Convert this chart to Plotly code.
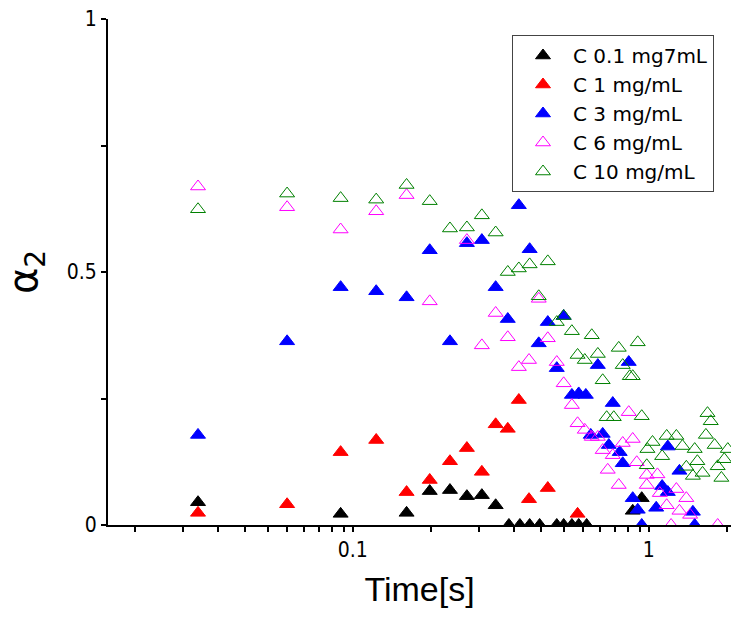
import plotly.graph_objects as go

# ---------------- data ----------------
black_t = [0.030, 0.091, 0.152, 0.182, 0.213, 0.243, 0.273, 0.304,
           0.337, 0.367, 0.396, 0.428, 0.489, 0.516, 0.55, 0.58, 0.617,
           0.883, 0.947]
black_a = [0.045, 0.022, 0.024, 0.067, 0.069, 0.057, 0.059, 0.039,
           0.0, 0.0, 0.0, 0.0, 0.0, 0.0, 0.0, 0.0, 0.0,
           0.028, 0.053]

red_t = [0.030, 0.060, 0.091, 0.12, 0.152, 0.182, 0.213, 0.243, 0.273,
         0.304, 0.334, 0.364, 0.394, 0.456, 0.575]
red_a = [0.024, 0.041, 0.144, 0.168, 0.065, 0.089, 0.126, 0.152, 0.105,
         0.199, 0.19, 0.247, 0.051, 0.073, 0.022]

blue_t = [0.030, 0.060, 0.091, 0.12, 0.152, 0.182, 0.213, 0.243, 0.273,
          0.304, 0.334, 0.364, 0.396, 0.425, 0.456, 0.489, 0.516, 0.55,
          0.58, 0.613, 0.637, 0.673, 0.699, 0.733, 0.756, 0.798, 0.817,
          0.856, 0.883, 0.918, 0.947, 1.06, 1.11, 1.16, 1.16, 1.27, 1.41,
          1.43]
blue_a = [0.178, 0.363, 0.470, 0.462, 0.450, 0.543, 0.363, 0.557, 0.563,
          0.470, 0.407, 0.632, 0.545, 0.359, 0.401, 0.31, 0.413, 0.257,
          0.26, 0.257, 0.178, 0.316, 0.18, 0.158, 0.241, 0.144, 0.122,
          0.322, 0.053, 0.03, 0.0, 0.034, 0.077, 0.065, 0.155, 0.107, 0.026,
          0.0]

pink_t = [0.030, 0.060, 0.091, 0.12, 0.152, 0.182, 0.243, 0.273, 0.304,
          0.334, 0.364, 0.394, 0.425, 0.456, 0.489, 0.516, 0.55, 0.575,
          0.608, 0.642, 0.673, 0.699, 0.727, 0.756, 0.792, 0.817, 0.856,
          0.883, 0.911, 0.985, 0.985, 1.07, 1.09, 1.15, 1.19, 1.24, 1.27,
          1.34, 1.38, 1.71]
pink_a = [0.669, 0.628, 0.584, 0.620, 0.652, 0.442, 0.563, 0.355, 0.419,
          0.371, 0.312, 0.326, 0.447, 0.369, 0.322, 0.28, 0.237, 0.201,
          0.188, 0.174, 0.174, 0.148, 0.109, 0.138, 0.079, 0.162, 0.223,
          0.17, 0.124, 0.099, 0.079, 0.1, 0.063, 0.039, 0.0, 0.071, 0.028,
          0.053, 0.02, 0.0]

green_t = [0.030, 0.060, 0.091, 0.12, 0.152, 0.182, 0.213, 0.243, 0.273,
           0.304, 0.334, 0.364, 0.396, 0.425, 0.456, 0.489, 0.516, 0.55,
           0.575, 0.608, 0.642, 0.673, 0.699, 0.721, 0.762, 0.792, 0.817,
           0.863, 0.883, 0.918, 0.947, 0.985, 0.99, 1.03, 1.11, 1.15, 1.24,
           1.30, 1.34, 1.41, 1.43, 1.46, 1.52, 1.56, 1.58, 1.62, 1.67, 1.71,
           1.76, 1.80, 1.85]
green_a = [0.624, 0.655, 0.646, 0.643, 0.672, 0.64, 0.586, 0.588, 0.612,
           0.578, 0.5, 0.507, 0.515, 0.452, 0.521, 0.401, 0.413, 0.383,
           0.336, 0.326, 0.375, 0.338, 0.286, 0.213, 0.213, 0.35, 0.316,
           0.294, 0.294, 0.361, 0.215, 0.118, 0.15, 0.164, 0.136, 0.176, 0.176,
           0.156, 0.115, 0.097, 0.15, 0.126, 0.103, 0.178, 0.221, 0.205, 0.158,
           0.116, 0.093, 0.13, 0.15]

series_names = ["C 0.1 mg7mL", "C 1 mg/mL", "C 3 mg/mL", "C 6 mg/mL", "C 10 mg/mL"]

x_tickvals = [0.1, 1]
x_ticktext = ["0.1", "1"]
y_tickvals = [0, 0.5, 1]
y_ticktext = ["0", "0.5", "1"]
y_minor = [0.25, 0.75]

# ---------------- figure ----------------
series = [
    (black_t, black_a, "triangle-up", "black"),
    (red_t, red_a, "triangle-up", "#FF0000"),
    (blue_t, blue_a, "triangle-up", "#0000FF"),
    (pink_t, pink_a, "triangle-up-open", "#FF00FF"),
    (green_t, green_a, "triangle-up-open", "#008000"),
]

fig = go.Figure()
for (t, a, sym, col), name in zip(series, series_names):
    fig.add_trace(go.Scatter(
        x=t, y=a, mode="markers", name=name,
        marker=dict(symbol=sym, size=13, color=col,
                    line=dict(color=col, width=1)),
    ))

# Origin-style minor ticks: decade*(1 + 5k/6)
x_minor = []
for d in [0.01, 0.1, 1]:
    for k in range(1, 11):
        x_minor.append(round(d * (1 + 5 * k / 6), 6))

# all tick positions (labels only at major ones)
x_all = sorted(x_tickvals + x_minor)
x_all_text = [x_ticktext[x_tickvals.index(v)] if v in x_tickvals else " " for v in x_all]
y_all = sorted(y_tickvals + y_minor)
y_all_text = [y_ticktext[y_tickvals.index(v)] if v in y_tickvals else " " for v in y_all]

xrange = [-1.827, 0.278]
tickfont = dict(family="Liberation Sans Narrow, DejaVu Sans Condensed, Arial Narrow, sans-serif",
                size=21, color="black")
common = dict(showgrid=False, zeroline=False, tickcolor="black", tickwidth=1.5)

fig.update_layout(
    width=731, height=622,
    margin=dict(l=108, r=0, t=19, b=97),
    paper_bgcolor="white", plot_bgcolor="white",
    showlegend=True,
    legend=dict(
        x=(512 - 108) / 623, xanchor="left",
        y=(525 - 35) / 506, yanchor="top",
        bordercolor="#444", borderwidth=1, bgcolor="white",
        font=dict(family="DejaVu Sans, sans-serif", size=20, color="black"),
        itemwidth=50,
    ),
    # bottom axis: labels + minor-length ticks
    xaxis=dict(
        type="log", range=xrange,
        tickmode="array", tickvals=x_all, ticktext=x_all_text, tickangle=0,
        ticks="outside", ticklen=5,
        showline=True, linecolor="black", linewidth=2,
        tickfont=tickfont,
        title=dict(text="Time[s]",
                   font=dict(family="Liberation Sans, Arial, sans-serif", size=34, color="black"),
                   standoff=16),
        **common,
    ),
    # bottom axis: long major ticks
    xaxis3=dict(
        type="log", range=xrange, overlaying="x", side="bottom", anchor="y",
        tickmode="array", tickvals=x_tickvals, showticklabels=False,
        ticks="outside", ticklen=11, showline=False,
        **common,
    ),
    # top axis: inward ticks
    xaxis2=dict(
        type="log", range=xrange, overlaying="x", side="top", anchor="y",
        tickmode="array", tickvals=x_all, showticklabels=False,
        ticks="inside", ticklen=5,
        showline=True, linecolor="black", linewidth=2,
        **common,
    ),
    xaxis4=dict(
        type="log", range=xrange, overlaying="x", side="top", anchor="y",
        tickmode="array", tickvals=x_tickvals, showticklabels=False,
        ticks="inside", ticklen=10, showline=False,
        **common,
    ),
    yaxis=dict(
        range=[0, 1],
        tickmode="array", tickvals=y_all, ticktext=y_all_text,
        ticks="outside", ticklen=5,
        showline=True, linecolor="black", linewidth=2,
        tickfont=tickfont,
        title=dict(text="α<sub>2</sub>",
                   font=dict(family="DejaVu Sans, sans-serif", size=40, color="black"),
                   standoff=20),
        **common,
    ),
    yaxis2=dict(
        range=[0, 1], overlaying="y", side="left", anchor="x",
        tickmode="array", tickvals=y_tickvals, showticklabels=False,
        ticks="outside", ticklen=10, showline=False,
        **common,
    ),
)

fig.write_html("out.html")
